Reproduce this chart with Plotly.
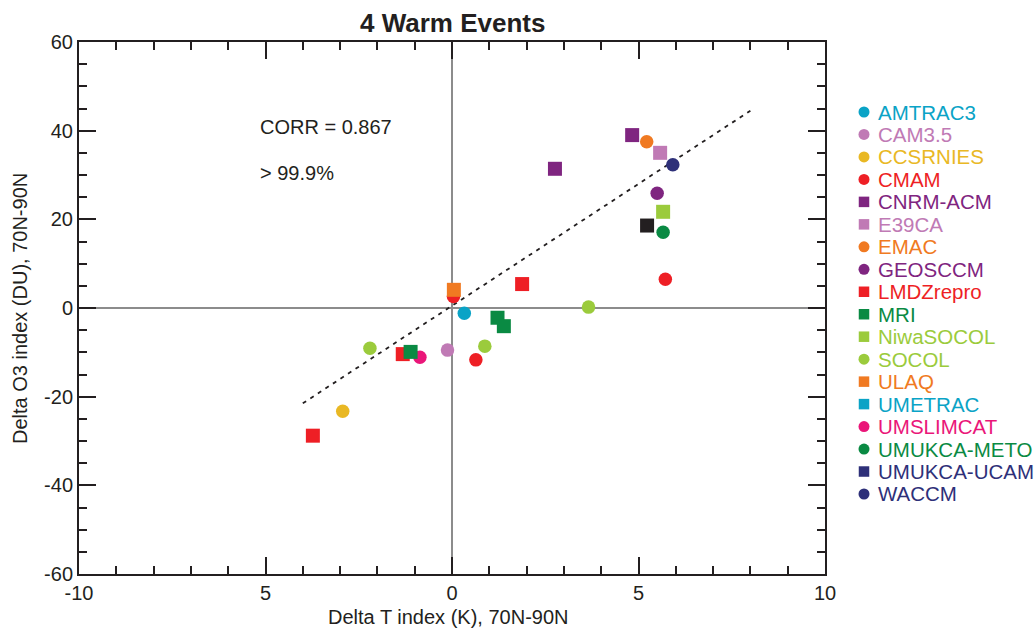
import plotly.graph_objects as go

W, H = 1036, 629

# ---- data ----
models = ["AMTRAC3", "CAM3.5", "CCSRNIES", "CMAM", "CNRM-ACM", "E39CA", "EMAC",
          "GEOSCCM", "LMDZrepro", "MRI", "NiwaSOCOL", "SOCOL", "ULAQ", "UMETRAC",
          "UMSLIMCAT", "UMUKCA-METO", "UMUKCA-UCAM", "WACCM"]
symbols = ["circle", "circle", "circle", "circle", "square", "square", "circle",
           "circle", "square", "square", "square", "circle", "square", "square",
           "circle", "circle", "square", "circle"]
colors = ["#0aa3c6", "#c07ab5", "#e9b824", "#ee1f25", "#7f2580", "#c07ab5", "#f07a22",
          "#7f2580", "#ee1f25", "#0a8a43", "#9bcb3c", "#9bcb3c", "#f07a22", "#0aa3c6",
          "#ea1679", "#0a8a43", "#2e3079", "#2e3079"]
point_color_override = {"UMUKCA-UCAM": "#231f20"}

dT = {
    "AMTRAC3": [0.33],
    "CAM3.5": [-0.12],
    "CCSRNIES": [-2.93],
    "CMAM": [5.72, 0.04, 0.64],
    "CNRM-ACM": [4.83, 2.76],
    "E39CA": [5.58],
    "EMAC": [5.22],
    "GEOSCCM": [5.50],
    "LMDZrepro": [1.88, -1.32, -3.73],
    "MRI": [1.22, 1.39, -1.11],
    "NiwaSOCOL": [5.66],
    "SOCOL": [3.66, -2.20, 0.88],
    "ULAQ": [0.05],
    "UMETRAC": [],
    "UMSLIMCAT": [-0.86],
    "UMUKCA-METO": [5.66],
    "UMUKCA-UCAM": [5.23],
    "WACCM": [5.92],
}
dO3 = {
    "AMTRAC3": [-1.2],
    "CAM3.5": [-9.5],
    "CCSRNIES": [-23.3],
    "CMAM": [6.5, 2.6, -11.7],
    "CNRM-ACM": [39.0, 31.4],
    "E39CA": [35.0],
    "EMAC": [37.5],
    "GEOSCCM": [25.9],
    "LMDZrepro": [5.4, -10.4, -28.8],
    "MRI": [-2.2, -4.1, -9.9],
    "NiwaSOCOL": [21.7],
    "SOCOL": [0.2, -9.1, -8.6],
    "ULAQ": [4.1],
    "UMETRAC": [],
    "UMSLIMCAT": [-11.1],
    "UMUKCA-METO": [17.1],
    "UMUKCA-UCAM": [18.6],
    "WACCM": [32.3],
}
fit_x = [-4.0, 8.0]
fit_y = [-21.5, 44.5]

x_tickvals = [-10, -5, 0, 5, 10]
x_ticktext = ["-10", "5", "0", "5", "10"]
y_tickvals = [-60, -40, -20, 0, 20, 40, 60]
y_ticktext = ["-60", "-40", "-20", "0", "20", "40", "60"]

title = "4 Warm Events"
xtitle = "Delta T index (K), 70N-90N"
ytitle = "Delta O3 index (DU), 70N-90N"
corr_text = "CORR = 0.867"
sig_text = "> 99.9%"

FONT = "Liberation Sans, Arial, sans-serif"
TXT = "#231f20"

fig = go.Figure()

# regression line
fig.add_trace(go.Scatter(x=fit_x, y=fit_y, mode="lines",
                         line=dict(color="#231f20", width=1.8, dash="4px,5px"),
                         showlegend=False, hoverinfo="skip"))

draw_order = ["CNRM-ACM", "EMAC", "E39CA", "WACCM", "GEOSCCM", "NiwaSOCOL", "UMUKCA-UCAM",
              "UMUKCA-METO", "CMAM", "LMDZrepro", "ULAQ", "SOCOL", "AMTRAC3", "UMSLIMCAT",
              "MRI", "CAM3.5", "CCSRNIES", "UMETRAC"]
for m in draw_order:
    i = models.index(m)
    col = point_color_override.get(m, colors[i])
    size = 13.5 if symbols[i] == "circle" else 14
    fig.add_trace(go.Scatter(x=dT[m], y=dO3[m], mode="markers", name=m,
                             marker=dict(symbol=symbols[i], color=col, size=size,
                                         line=dict(width=0)),
                             showlegend=False))

# manual legend on a pixel-scaled overlay axis
row0, step, mx, tx = 112.0, 22.47, 864.0, 877.0
leg_y = [row0 + step * k for k in range(len(models))]
for k, m in enumerate(models):
    fig.add_trace(go.Scatter(x=[mx], y=[leg_y[k]], mode="markers", xaxis="x2", yaxis="y2",
                             marker=dict(symbol=symbols[k], color=colors[k],
                                         size=11 if symbols[k] == "circle" else 10.5,
                                         line=dict(width=0)),
                             showlegend=False, hoverinfo="skip"))
annotations = []
for k, m in enumerate(models):
    annotations.append(dict(x=tx, y=leg_y[k], xref="x2", yref="y2", text=m,
                            showarrow=False, xanchor="left", yanchor="middle",
                            font=dict(size=20.5, color=colors[k], family=FONT),
                            borderpad=0))

annotations += [
    dict(x=-5.2, y=40.8, xref="x", yref="y", text=corr_text, showarrow=False,
         xanchor="left", yanchor="middle", font=dict(size=20, color=TXT, family=FONT)),
    dict(x=-5.2, y=30.4, xref="x", yref="y", text=sig_text, showarrow=False,
         xanchor="left", yanchor="middle", font=dict(size=20, color=TXT, family=FONT)),
    dict(x=452 / W, y=1 - 23 / H, xref="paper", yref="paper", text="<b>" + title + "</b>",
         showarrow=False, xanchor="center", yanchor="middle",
         font=dict(size=26, color=TXT, family=FONT)),
    dict(x=448 / W, y=1 - 617 / H, xref="paper", yref="paper", text=xtitle,
         showarrow=False, xanchor="center", yanchor="middle",
         font=dict(size=20, color=TXT, family=FONT)),
    dict(x=20 / W, y=1 - 309 / H, xref="paper", yref="paper", text=ytitle, textangle=-90,
         showarrow=False, xanchor="center", yanchor="middle",
         font=dict(size=20, color=TXT, family=FONT)),
]

axis_common = dict(showline=True, linecolor="#231f20", linewidth=2, mirror="ticks",
                   ticks="inside", ticklen=17, tickwidth=2, tickcolor="#231f20",
                   showgrid=False, zeroline=True, zerolinecolor="#8c8c8c", zerolinewidth=2,
                   automargin=False,
                   tickfont=dict(size=20, color=TXT, family=FONT))

fig.update_layout(
    width=W, height=H, autosize=False,
    margin=dict(l=0, r=0, t=0, b=0, pad=0, autoexpand=False),
    paper_bgcolor="white", plot_bgcolor="white",
    showlegend=False,
    xaxis=dict(domain=[79 / W, 825 / W], range=[-10, 10], tickmode="array",
               tickvals=x_tickvals, ticktext=x_ticktext,
               minor=dict(dtick=1, tick0=0, ticks="inside", ticklen=8, tickwidth=2,
                          tickcolor="#231f20"),
               **axis_common),
    yaxis=dict(domain=[1 - 574 / H, 1 - 42 / H], range=[-60, 60], tickmode="array",
               tickvals=y_tickvals, ticktext=y_ticktext,
               minor=dict(dtick=5, tick0=0, ticks="inside", ticklen=8, tickwidth=2,
                          tickcolor="#231f20"),
               **axis_common),
    xaxis2=dict(domain=[840 / W, 1], range=[840, W], visible=False, fixedrange=True,
                anchor="y2", automargin=False),
    yaxis2=dict(domain=[0, 1], range=[H, 0], visible=False, fixedrange=True,
                anchor="x2", automargin=False),
    annotations=annotations,
)

fig.write_html("out.html")
